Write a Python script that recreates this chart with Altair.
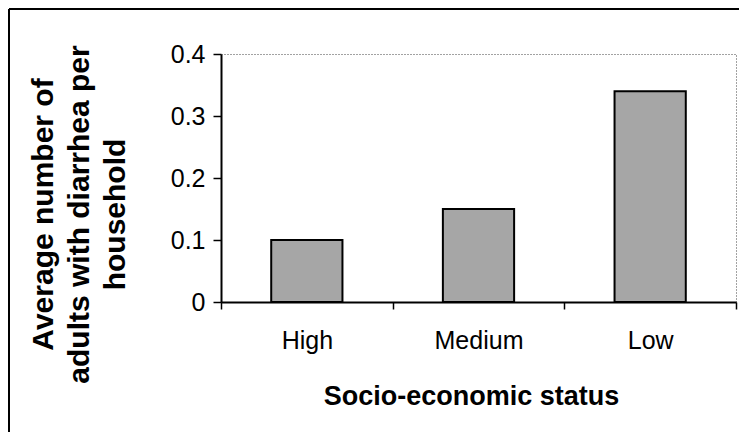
import altair as alt
import pandas as pd

categories = ["High", "Medium", "Low"]
values = [0.10, 0.15, 0.34]
y_ticks = [0, 0.1, 0.2, 0.3, 0.4]
y_title = ["Average number of", "adults with diarrhea per", "household"]
x_title = "Socio-economic status"

df = pd.DataFrame({"status": categories, "value": values})
frame = pd.DataFrame({"k": [0]})

FONT = "Liberation Sans"

bars = alt.Chart(df).mark_bar(
    width=alt.RelativeBandSize(0.415), color="#a6a6a6", stroke="black", strokeWidth=2
).encode(
    x=alt.X(
        "status:N", sort=categories,
        scale=alt.Scale(paddingInner=0, paddingOuter=0),
        axis=alt.Axis(
            title=x_title, labelAngle=0, tickBand="extent", tickSize=7, tickWidth=1.5,
            tickColor="black", domainColor="black", domainWidth=2,
            labelFont=FONT, labelFontSize=25, labelColor="black", labelPadding=19,
            labelBaseline="top",
            titleFont=FONT, titleFontSize=27, titleFontWeight="bold", titleColor="black",
            titleBaseline="alphabetic", titleX=250, titleY=102,
        ),
    ),
    y=alt.Y(
        "value:Q",
        scale=alt.Scale(domain=[0, 0.4], nice=False),
        axis=alt.Axis(
            values=y_ticks, format=".1~f", grid=False, tickSize=8, tickWidth=1.5,
            tickColor="black", domainColor="black", domainWidth=2,
            labelFont=FONT, labelFontSize=25, labelColor="black", labelPadding=8,
            title=y_title, titleFont=FONT, titleFontSize=30, titleFontWeight="bold",
            titleColor="black", titleAngle=270, titleAlign="center",
            titleBaseline="alphabetic", titleLineHeight=36, titleX=-169, titleY=160,
        ),
    ),
)

left_border = alt.Chart(frame).mark_rule(color="black", strokeWidth=2).encode(
    x=alt.value(-212), y=alt.value(-45), y2=alt.value(380)
)
top_border = alt.Chart(frame).mark_rule(color="black", strokeWidth=2).encode(
    x=alt.value(-212), x2=alt.value(520), y=alt.value(-45)
)

chart = alt.layer(bars, left_border, top_border).properties(
    width=515, height=248,
    autosize=alt.AutoSizeParams(type="none"),
    padding={"left": 213, "top": 46, "right": 3, "bottom": 130},
    background="white",
).configure_view(
    stroke="#444444", strokeDash=[1, 2], strokeWidth=1
)

chart.save("out.html", embed_options={"renderer": "svg", "actions": False})
